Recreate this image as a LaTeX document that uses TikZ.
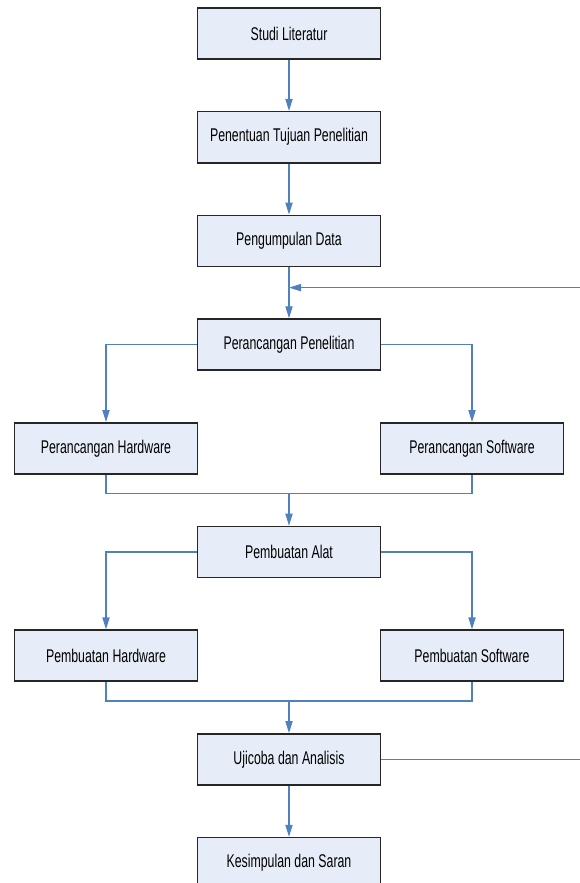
\documentclass[tikz,border=0pt]{standalone}
\usepackage{fontspec}
\setmainfont[FakeStretch=0.67]{Liberation Sans}
\usetikzlibrary{arrows.meta, positioning, calc}

\definecolor{flowblue}{RGB}{79,129,189}
\definecolor{boxfill}{RGB}{231,237,248}

\tikzset{
  stepbox/.style={draw=black!85, fill=boxfill, line width=0.8pt,
    minimum width=91.5pt, minimum height=25.5pt, inner sep=0pt,
    font=\fontsize{9.2}{10}\selectfont},
  flow/.style={flowblue, line width=0.6pt},
  flowarrow/.style={flow, -{Triangle[length=6pt, width=3.6pt]}}
}

\begin{document}
\begin{tikzpicture}[node distance=25.55pt]
  \useasboundingbox (0,0) rectangle (289.5pt,-441.5pt);

  % main column
  \node[stepbox] (studi) at (144.5pt,-16.75pt) {Studi Literatur};
  \node[stepbox, below=of studi]  (tujuan)  {Penentuan Tujuan Penelitian};
  \node[stepbox, below=of tujuan] (data)    {Pengumpulan Data};
  \node[stepbox, below=of data]   (rancang) {Perancangan Penelitian};
  \node[stepbox, below=of rancang, xshift=-91.5pt] (rhw) {Perancangan Hardware};
  \node[stepbox, below=of rancang, xshift=91.5pt]  (rsw) {Perancangan Software};
  \node[stepbox, below=of rhw, xshift=91.5pt] (alat) {Pembuatan Alat};
  \node[stepbox, below=of alat, xshift=-91.5pt] (bhw) {Pembuatan Hardware};
  \node[stepbox, below=of alat, xshift=91.5pt]  (bsw) {Pembuatan Software};
  \node[stepbox, below=of bhw, xshift=91.5pt] (uji) {Ujicoba dan Analisis};
  \node[stepbox, below=of uji] (simpul) {Kesimpulan dan Saran};

  % join points
  \coordinate (fb) at ($(data.south)!0.4!(rancang.north)$);
  \coordinate (m1) at ($(rancang.south |- rhw.south)!0.37!(alat.north)$);
  \coordinate (m2) at ($(alat.south |- bhw.south)!0.37!(uji.north)$);

  \draw[flowarrow] (studi) -- (tujuan);
  \draw[flowarrow] (tujuan) -- (data);
  \draw[flowarrow] (data) -- (rancang);

  \draw[flowarrow] (rancang.west) -| (rhw.north);
  \draw[flowarrow] (rancang.east) -| (rsw.north);
  \draw[flow] (rhw.south) |- (m1) -| (rsw.south);
  \draw[flowarrow] (m1) -- (alat.north);

  \draw[flowarrow] (alat.west) -| (bhw.north);
  \draw[flowarrow] (alat.east) -| (bsw.north);
  \draw[flow] (bhw.south) |- (m2) -| (bsw.south);
  \draw[flowarrow] (m2) -- (uji.north);

  \draw[flowarrow] (uji) -- (simpul);

  % feedback loop, its upright part lies past the right edge
  \draw[flowarrow] (uji.east) -- ++(110pt,0) |- (fb);
\end{tikzpicture}
\end{document}
